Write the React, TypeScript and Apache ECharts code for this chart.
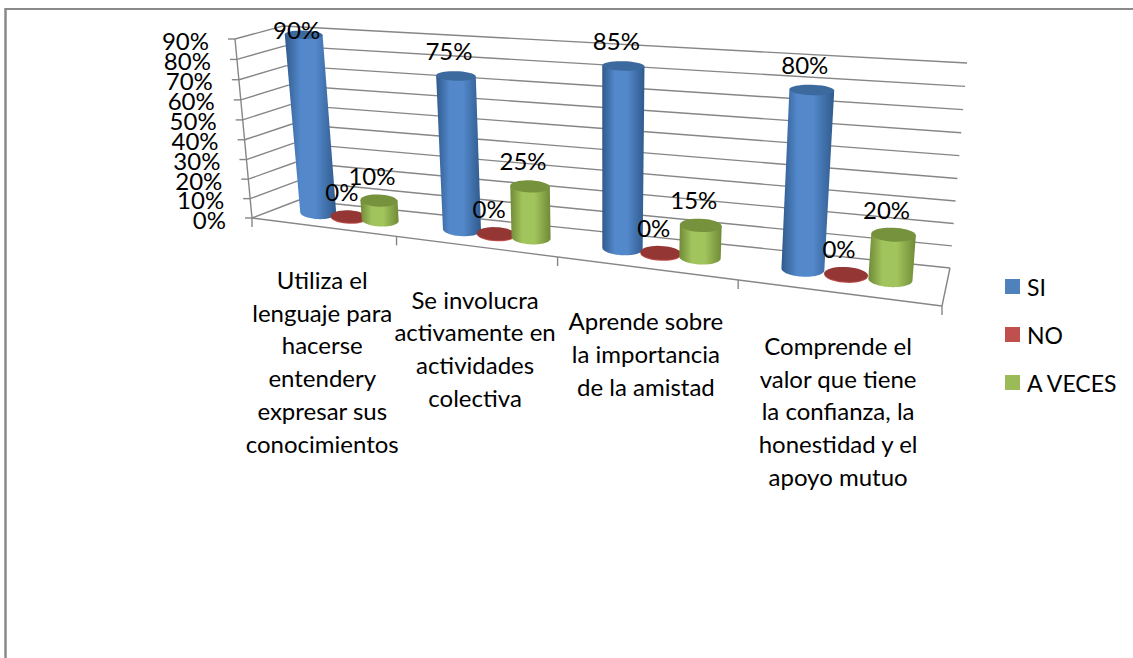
import React, { useEffect, useRef } from "react";
import * as echarts from "echarts";

const categories = [
  "Utiliza el\nlenguaje para\nhacerse\nentendery\nexpresar sus\nconocimientos",
  "Se involucra\nactivamente en\nactividades\ncolectiva",
  "Aprende sobre\nla importancia\nde la amistad",
  "Comprende el\nvalor que tiene\nla confianza, la\nhonestidad y el\napoyo mutuo",
];
const siValues = [90, 75, 85, 80];
const noValues = [0, 0, 0, 0];
const aVecesValues = [10, 25, 15, 20];
const valueTicks = [0, 10, 20, 30, 40, 50, 60, 70, 80, 90];
const FONT = "Lato";
const FS = 24;

// 3D box corners on the page (front/back, left/right, bottom/top)
const FLB = [252, 218], BLB = [299, 200], FRB = [942, 306], BRB = [950, 268];
const FLT = [235, 39], BLT = [283, 26], FRT = [960, 91], BRT = [967, 63];
const warp = (t: number, a: number) => (t * a) / (1 + (a - 1) * t);
const lerp = (p: number[], q: number[], t: number) => [p[0] + (q[0] - p[0]) * t, p[1] + (q[1] - p[1]) * t];
function project(t: number, v: number, w: number) {
  const u = warp(t, 0.795);
  const h = warp(w, 0.97);
  const fb = lerp(FLB, FRB, u), bb = lerp(BLB, BRB, u), ft = lerp(FLT, FRT, u), bt = lerp(BLT, BRT, u);
  return lerp(lerp(fb, bb, v), lerp(ft, bt, v), h);
}
const norm = (params: any, api: any, cat: number, val: number) => {
  const cs = params.coordSys;
  const c = api.coord([cat, val]);
  return { t: (c[0] - cs.x) / cs.width, w: (cs.y + cs.height - c[1]) / cs.height, band: 1 / categories.length };
};
const BAR = 1 / 4.5;
const DEPTH = 0.52;
// centre of a cylinder at height w: the box projection, nudged slightly to the right
function barCentre(t: number, w: number) {
  const c = project(t, DEPTH, w);
  return [c[0] + 4.5 - 3 * t, c[1]];
}

function ellipsePts(c: number[], d: number[], ry: number, from = 0, to = Math.PI * 2, n = 40) {
  const pts: number[][] = [];
  for (let i = 0; i <= n; i++) {
    const a = from + ((to - from) * i) / n;
    pts.push([c[0] + Math.cos(a) * d[0], c[1] + Math.cos(a) * d[1] + Math.sin(a) * ry]);
  }
  return pts;
}

function cylinderSeries(name: string, values: number[], slot: number, color: string, edge: string, mid: string, cap: string) {
  return {
    name,
    type: "custom",
    coordinateSystem: "cartesian2d",
    itemStyle: { color },
    encode: { x: 0, y: 1 },
    data: values.map((v, i) => [i, v]),
    z: 3,
    renderItem: (params: any, api: any) => {
      const { t, w, band } = norm(params, api, api.value(0), api.value(1));
      const tc = t + slot * BAR * band;
      const half = (BAR * band) / 2;
      const mk = (wv: number) => {
        const a = project(tc - half, DEPTH, wv), b = project(tc + half, DEPTH, wv);
        const k = 1.2 - 0.24 * tc;
        return { c: barCentre(tc, wv), d: [((b[0] - a[0]) / 2) * k, ((b[1] - a[1]) / 2) * 0.4] };
      };
      const base = mk(0), top = mk(w);
      const ryOf = (m: any, wv: number) => m.d[0] * (0.34 - 0.12 * wv);
      const ryB = ryOf(base, 0), ryT = ryOf(top, w);
      const children: any[] = [];
      if (w > 0) {
        const lower = ellipsePts(base.c, base.d, ryB, 0, Math.PI);
        const pts = [[top.c[0] + top.d[0], top.c[1] + top.d[1]], ...lower, [top.c[0] - top.d[0], top.c[1] - top.d[1]]];
        children.push({
          type: "polygon",
          shape: { points: pts },
          style: {
            fill: new echarts.graphic.LinearGradient(0, 0, 1, 0, [
              { offset: 0, color: edge },
              { offset: 0.3, color: mid },
              { offset: 0.6, color: mid },
              { offset: 1, color: edge },
            ]),
          },
        });
      } else {
        children.push({
          type: "polygon",
          shape: { points: ellipsePts([base.c[0], base.c[1] + 1], base.d, ryB) },
          style: { fill: mid },
        });
      }
      children.push({ type: "polygon", shape: { points: ellipsePts(top.c, top.d, ryT) }, style: { fill: cap } });
      return { type: "group", children };
    },
  };
}

function labelSeries(values: number[], slot: number) {
  return {
    type: "custom",
    coordinateSystem: "cartesian2d",
    encode: { x: 0, y: 1 },
    data: values.map((v, i) => [i, v]),
    z: 5,
    renderItem: (params: any, api: any) => {
      const { t, w, band } = norm(params, api, api.value(0), api.value(1));
      const c = barCentre(t + slot * BAR * band, w);
      return {
        type: "text",
        style: {
          text: `${api.value(1)}%`,
          x: c[0] - 7,
          y: Math.max(c[1] - 25.5, 29),
          align: "center",
          verticalAlign: "middle",
          font: `${FS}px ${FONT}`,
          fill: "#000",
        },
      };
    },
  };
}

const GRID = "#868686";
const line = (p: number[], q: number[]) => ({
  type: "line",
  shape: { x1: p[0], y1: p[1], x2: q[0], y2: q[1] },
  style: { stroke: GRID, lineWidth: 1.4 },
});

export default function App() {
  const ref = useRef<HTMLDivElement>(null);
  useEffect(() => {
    const chart = echarts.init(ref.current!, undefined, { renderer: "svg" });
    chart.setOption({
      animation: false,
      backgroundColor: "#fff",
      grid: { left: 100, right: 100, top: 100, bottom: 100 },
      xAxis: { type: "category", data: categories, show: false },
      yAxis: { type: "value", min: 0, max: 90, interval: 10, show: false },
      legend: {
        orient: "vertical",
        left: 1005,
        top: 275,
        padding: 0,
        itemWidth: 15,
        itemHeight: 15,
        itemGap: 25,
        icon: "rect",
        data: ["SI", "NO", "A VECES"],
        textStyle: { fontFamily: FONT, fontSize: 23, color: "#000", padding: [0, 0, 0, 2] },
        selectedMode: false,
      },
      graphic: [
        { type: "line", shape: { x1: 5.5, y1: 9, x2: 1133, y2: 9 }, style: { stroke: "#8a8a8a", lineWidth: 2 }, silent: true },
        { type: "line", shape: { x1: 5.5, y1: 8, x2: 5.5, y2: 658 }, style: { stroke: "#8a8a8a", lineWidth: 2.5 }, silent: true },
      ],
      series: [
        {
          type: "custom",
          coordinateSystem: "cartesian2d",
          encode: { x: 0, y: 1 },
          data: valueTicks.map((v) => [0, v]),
          z: 1,
          renderItem: (params: any, api: any) => {
            const { w } = norm(params, api, 0, api.value(1));
            const a = project(0, 0, w), b = project(0, 1, w), c = project(1, 1, w);
            return {
              type: "group",
              children: [
                line(a, b),
                line(b, c),
                line([a[0] - 7, a[1]], a),
                {
                  type: "text",
                  style: {
                    text: `${api.value(1)}%`,
                    x: a[0] - 26,
                    y: a[1] + 1,
                    align: "right",
                    verticalAlign: "middle",
                    font: `${FS}px ${FONT}`,
                    fill: "#000",
                  },
                },
              ],
            };
          },
        },
        {
          type: "custom",
          coordinateSystem: "cartesian2d",
          encode: { x: 0, y: 1 },
          data: [[0, 0]],
          z: 1,
          renderItem: () => {
            const kids: any[] = [
              line(project(0, 0, 0), project(0, 0, 0.9999)),
              line(project(0, 0, 0), project(1, 0, 0)),
              line(project(1, 0, 0), project(1, 1, 0)),
            ];
            for (let i = 0; i <= categories.length; i++) {
              const p = project(i / categories.length, 0, 0);
              kids.push(line(p, [p[0], p[1] + 9]));
            }
            return { type: "group", children: kids };
          },
        },
        {
          type: "custom",
          coordinateSystem: "cartesian2d",
          encode: { x: 0, y: 1 },
          data: categories.map((_, i) => [i, 0]),
          z: 2,
          renderItem: (params: any, api: any) => {
            const i = api.value(0);
            const a = project(i / categories.length, 0, 0), b = project((i + 1) / categories.length, 0, 0);
            return {
              type: "text",
              style: {
                text: categories[i],
                x: (a[0] + b[0]) / 2 - 2,
                y: (a[1] + b[1]) / 2 + 36,
                align: "center",
                verticalAlign: "top",
                lineHeight: 32.7,
                font: `${FS}px ${FONT}`,
                fill: "#000",
              },
            };
          },
        },
        cylinderSeries("SI", siValues, -1, "#4F81BD", "#2F5A8C", "#5388CB", "#3C6A9E"),
        cylinderSeries("NO", noValues, 0, "#C0504D", "#C0504D", "#C0504D", "#943734"),
        cylinderSeries("A VECES", aVecesValues, 1, "#9BBB59", "#6F8A37", "#A2C45C", "#76923C"),
        labelSeries(siValues, -1),
        labelSeries(noValues, 0),
        labelSeries(aVecesValues, 1),
      ],
    });
    return () => chart.dispose();
  }, []);
  return <div ref={ref} style={{ position: "fixed", left: 0, top: 0, width: 1133, height: 658 }} />;
}
